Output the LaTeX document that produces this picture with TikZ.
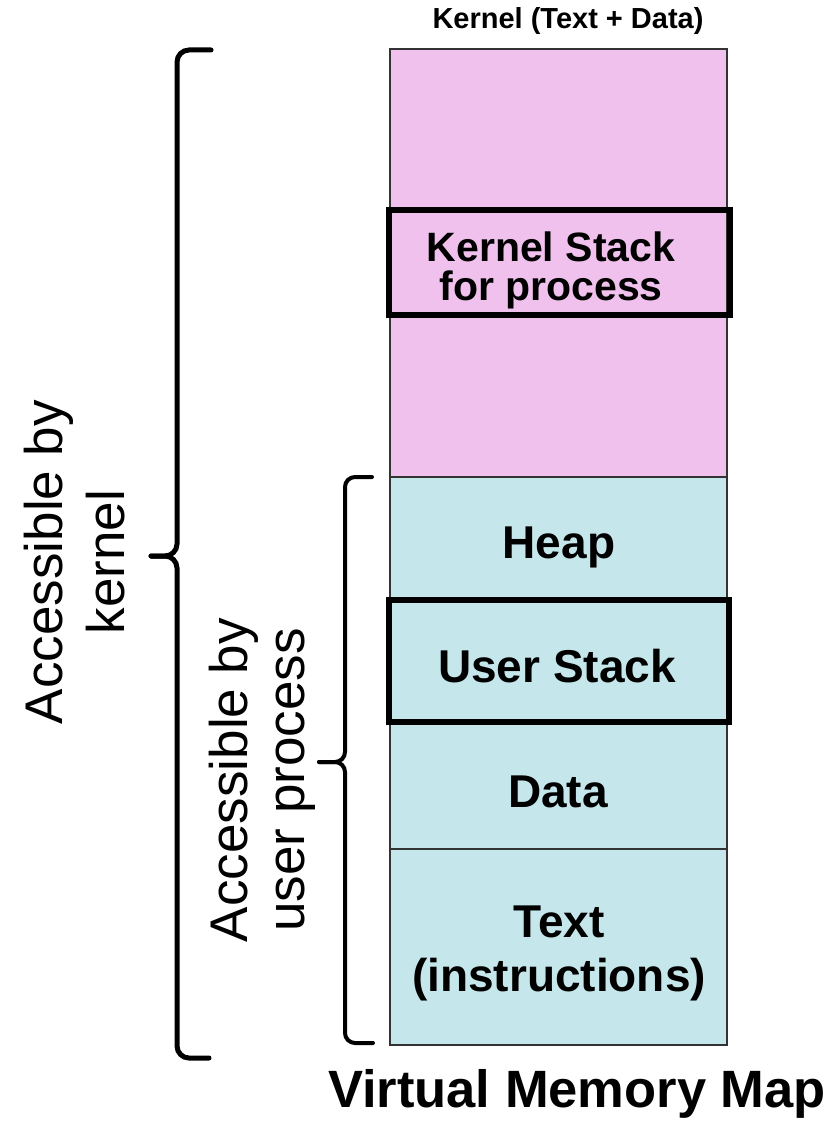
\documentclass[tikz,border=0pt]{standalone}
\usepackage{fontspec}
\setmainfont{Liberation Sans}
\definecolor{kernelpink}{RGB}{239,193,236}
\definecolor{usercyan}{RGB}{197,230,234}
\tikzset{
  region/.style={draw=black!80, line width=1.5pt},
  stackbox/.style={draw=black, line width=6pt},
  bigbrace/.style={draw=black, line width=5pt, rounded corners=12pt, line cap=round},
  smallbrace/.style={draw=black, line width=4pt, rounded corners=10pt, line cap=round},
  txt/.style 2 args={font=\bfseries\fontsize{#1}{#2}\selectfont, align=center, inner sep=0pt},
  side/.style 2 args={font=\fontsize{#1}{#2}\selectfont, align=center, inner sep=0pt, rotate=90}
}
\begin{document}
\begin{tikzpicture}[x=1pt,y=-1pt]
\useasboundingbox (0,0) rectangle (839,1121);

% memory column: kernel part and user part
\fill[kernelpink] (390,49) rectangle (727,477);
\fill[usercyan] (390,477) rectangle (727,1045);
\draw[region] (390,49) rectangle (727,1045);
\draw[region] (390,477) -- (727,477);
\draw[region] (390,849) -- (727,849);

% stacks, outlined heavily
\draw[stackbox] (389,210) rectangle (730,315);
\draw[stackbox] (389,600) rectangle (729,722);

% labels inside the column
\node[txt={29}{33}, anchor=base] (ktitle) at (568,29) {Kernel (Text + Data)};
\node[txt={41}{39}] (kstack) at (551,270.5) {Kernel Stack\\for process};
\node[txt={46}{54}, anchor=base] (heap) at (559,558) {Heap};
\node[txt={46}{54}, anchor=base] (ustack) at (557,682) {User Stack};
\node[txt={46}{54}, anchor=base] (data) at (558,807) {Data};
\node[txt={46}{54}] (text) at (559,953.5) {Text\\(instructions)};
\node[txt={52.5}{60}, anchor=base] (title) at (577,1107) {Virtual Memory Map};

% brace spanning the whole map
\draw[bigbrace] (211,50) -- (177,50) -- (177,556) -- (151,556);
\draw[bigbrace] (151,556) -- (177,556) -- (177,1058) -- (209,1058);
\node[side={53}{62}] (kacc) at (75,562) {Accessible by\\kernel};

% brace spanning the user part
\draw[smallbrace] (372,477) -- (345,477) -- (345,762) -- (319,762);
\draw[smallbrace] (319,762) -- (345,762) -- (345,1043) -- (373,1043);
\node[side={53}{57}] (uacc) at (262,780) {Accessible by\\user process};
\end{tikzpicture}
\end{document}
